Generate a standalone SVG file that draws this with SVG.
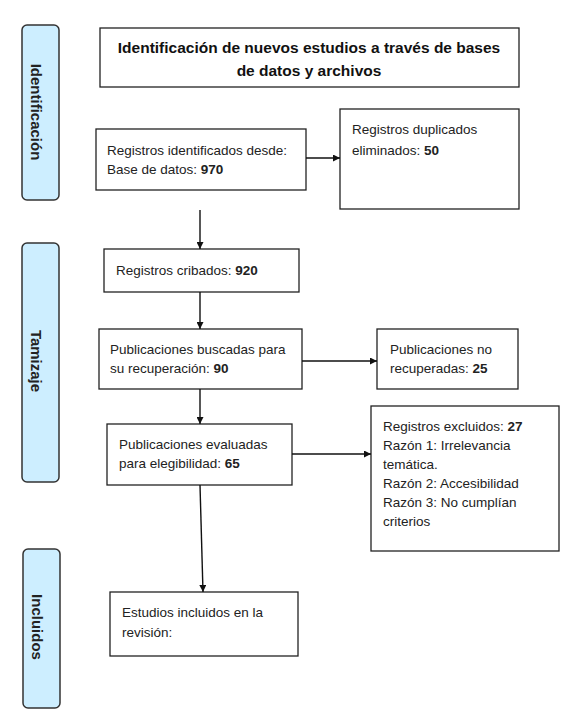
<svg xmlns="http://www.w3.org/2000/svg" width="567" height="719" viewBox="0 0 567 719">
<style>
.box{fill:#fff;stroke:#222;stroke-width:1.3}
.side{fill:#cdeeff;stroke:#333;stroke-width:1.5}
.t{font-family:"Liberation Sans",Arial,sans-serif;font-size:13.5px;fill:#222}
.b{font-weight:bold}
.title{font-family:"Liberation Sans",Arial,sans-serif;font-size:15.5px;font-weight:bold;fill:#111}
.sl{font-family:"Liberation Sans",Arial,sans-serif;font-size:15px;font-weight:bold;fill:#222}
.c{stroke:#111;stroke-width:1.4;fill:none}
</style>
<defs>
<marker id="ah" viewBox="0 0 10 10" refX="10" refY="5" markerWidth="7" markerHeight="7" markerUnits="userSpaceOnUse" orient="auto">
<path d="M0,0 L10,5 L0,10 z" fill="#111"/>
</marker>
</defs>
<rect width="567" height="719" fill="#fff"/>
<g id="side-identificacion">
<rect class="side" x="22" y="25" width="37" height="175" rx="5"/>
<text class="sl" transform="translate(31,112) rotate(90)" text-anchor="middle">Identificación</text>
</g>
<g id="side-tamizaje">
<rect class="side" x="22" y="243" width="37" height="239" rx="5"/>
<text class="sl" transform="translate(31,361) rotate(90)" text-anchor="middle">Tamizaje</text>
</g>
<g id="side-incluidos">
<rect class="side" x="23" y="549" width="37" height="159" rx="5"/>
<text class="sl" transform="translate(32,627) rotate(90)" text-anchor="middle">Incluidos</text>
</g>
<g id="title">
<rect class="box" x="100" y="28" width="419" height="59"/>
<text class="title" x="309" y="53" text-anchor="middle">Identificación de nuevos estudios a través de bases</text>
<text class="title" x="309" y="76" text-anchor="middle">de datos y archivos</text>
</g>
<g id="identificados">
<rect class="box" x="96" y="129" width="210" height="61"/>
<text class="t" x="107" y="155">Registros identificados desde:</text>
<text class="t" x="107" y="174">Base de datos: <tspan class="b">970</tspan></text>
</g>
<g id="duplicados">
<rect class="box" x="340" y="109" width="179" height="100"/>
<text class="t" x="352" y="134">Registros duplicados</text>
<text class="t" x="352" y="155">eliminados: <tspan class="b">50</tspan></text>
</g>
<g id="cribados">
<rect class="box" x="104" y="249" width="195" height="43"/>
<text class="t" x="116" y="275">Registros cribados: <tspan class="b">920</tspan></text>
</g>
<g id="buscadas">
<rect class="box" x="99" y="329" width="203" height="60"/>
<text class="t" x="110" y="354">Publicaciones buscadas para</text>
<text class="t" x="110" y="373">su recuperación: <tspan class="b">90</tspan></text>
</g>
<g id="no-recuperadas">
<rect class="box" x="377" y="329" width="141" height="60"/>
<text class="t" x="390" y="354">Publicaciones no</text>
<text class="t" x="390" y="373">recuperadas: <tspan class="b">25</tspan></text>
</g>
<g id="evaluadas">
<rect class="box" x="107" y="424" width="185" height="61"/>
<text class="t" x="119" y="449">Publicaciones evaluadas</text>
<text class="t" x="119" y="468">para elegibilidad: <tspan class="b">65</tspan></text>
</g>
<g id="excluidos">
<rect class="box" x="371" y="406" width="188" height="145"/>
<text class="t" x="383" y="431">Registros excluidos: <tspan class="b">27</tspan></text>
<text class="t" x="383" y="450">Razón 1: Irrelevancia</text>
<text class="t" x="383" y="469">temática.</text>
<text class="t" x="383" y="488">Razón 2: Accesibilidad</text>
<text class="t" x="383" y="507">Razón 3: No cumplían</text>
<text class="t" x="383" y="526">criterios</text>
</g>
<g id="incluidos">
<rect class="box" x="110" y="592" width="188" height="64"/>
<text class="t" x="122" y="617">Estudios incluidos en la</text>
<text class="t" x="122" y="637">revisión:</text>
</g>
<g id="connectors">
<line class="c" x1="306" y1="158" x2="340" y2="158" marker-end="url(#ah)"/>
<line class="c" x1="200" y1="210" x2="200" y2="249" marker-end="url(#ah)"/>
<line class="c" x1="200" y1="292" x2="200" y2="329" marker-end="url(#ah)"/>
<line class="c" x1="200" y1="389" x2="200" y2="424" marker-end="url(#ah)"/>
<line class="c" x1="302" y1="361" x2="377" y2="361" marker-end="url(#ah)"/>
<line class="c" x1="292" y1="454" x2="371" y2="454" marker-end="url(#ah)"/>
<line class="c" x1="200" y1="485" x2="203" y2="592" marker-end="url(#ah)"/>
</g>
</svg>
